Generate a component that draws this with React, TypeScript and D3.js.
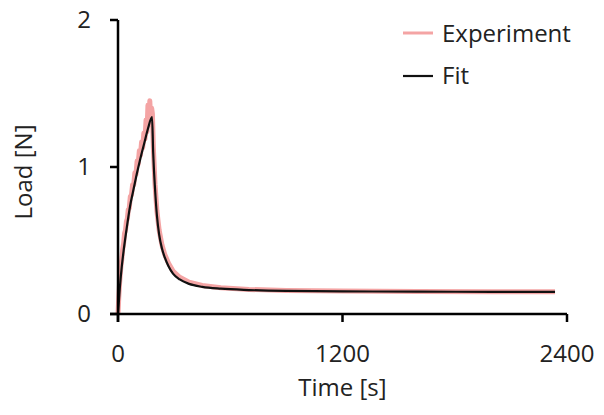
import React from "react";
import * as d3 from "d3";

const W = 604;
const H = 415;

const xTicks = [0, 1200, 2400];
const yTicks = [0, 1, 2];

// Fit curve (time s, load N)
const fitTime = [0, 10, 20, 30, 45, 64, 80, 100, 120, 140, 160, 182, 188, 198, 208, 220, 235, 250, 270, 294, 330, 380, 450, 550, 700, 900, 1200, 1600, 2000, 2336];
const fitLoad = [0, 0.18, 0.32, 0.43, 0.57, 0.73, 0.83, 0.95, 1.06, 1.16, 1.26, 1.34, 1.1, 0.85, 0.67, 0.54, 0.445, 0.385, 0.325, 0.275, 0.235, 0.205, 0.185, 0.172, 0.163, 0.157, 0.154, 0.152, 0.151, 0.15];

// Experiment (noisy measurement)
const expTime = [0, 4, 8, 12, 16, 20, 25, 30, 35, 40, 45, 50, 55, 60, 66, 72, 78, 84, 90, 96, 102, 108, 114, 120, 126, 132, 138, 144, 150, 155, 160, 165, 170, 175, 180, 184, 189, 198, 208, 220, 235, 250, 270, 294, 330, 380, 450, 550, 700, 900, 1200, 1600, 2000, 2336];
const expLoad = [0, 0.11, 0.2, 0.27, 0.33, 0.37, 0.44, 0.48, 0.55, 0.57, 0.63, 0.65, 0.71, 0.72, 0.8, 0.81, 0.88, 0.88, 0.96, 0.95, 1.04, 1.02, 1.11, 1.08, 1.17, 1.13, 1.23, 1.19, 1.32, 1.24, 1.42, 1.29, 1.45, 1.31, 1.4, 1.36, 1.13, 0.88, 0.7, 0.57, 0.47, 0.405, 0.345, 0.292, 0.25, 0.217, 0.194, 0.179, 0.167, 0.16, 0.156, 0.153, 0.152, 0.151];

const FONT = "'Open Sans', sans-serif";

export default function App() {
  const x = d3.scaleLinear().domain([0, 2400]).range([118, 567]);
  const y = d3.scaleLinear().domain([0, 2]).range([314, 20]);

  const line = d3
    .line<[number, number]>()
    .x((d) => x(d[0]))
    .y((d) => y(d[1]))
    .curve(d3.curveMonotoneX);

  const fitPts: [number, number][] = fitTime.map((t, i) => [t, fitLoad[i]]);
  const expPts: [number, number][] = expTime.map((t, i) => [t, expLoad[i]]);
  const expLine = d3
    .line<[number, number]>()
    .x((d) => x(d[0]))
    .y((d) => y(d[1]))
    .curve(d3.curveLinear);

  return (
    <svg width={W} height={H} style={{ position: "absolute", left: 0, top: 0, background: "#fff" }}>
      <rect width={W} height={H} fill="#fff" />
      {/* data */}
      <path d={expLine(expPts) || ""} fill="none" stroke="#f4a4a4" strokeWidth={5} strokeLinejoin="round" />
      <path d={line(fitPts) || ""} fill="none" stroke="#111" strokeWidth={2.2} strokeLinejoin="round" />

      {/* axes */}
      <line x1={110} x2={x(2400)} y1={y(0)} y2={y(0)} stroke="#000" strokeWidth={2.5} />
      <line x1={x(0)} x2={x(0)} y1={y(2)} y2={y(0) + 8} stroke="#000" strokeWidth={2.5} />
      {yTicks.map((t) => (
        <g key={"y" + t}>
          <line x1={110} x2={x(0)} y1={y(t)} y2={y(t)} stroke="#000" strokeWidth={2.5} />
          <text x={91} y={y(t) + 8} textAnchor="end" fontFamily={FONT} fontSize={24} fill="#222">
            {t}
          </text>
        </g>
      ))}
      {xTicks.map((t) => (
        <g key={"x" + t}>
          <line x1={x(t)} x2={x(t)} y1={y(0)} y2={y(0) + 8} stroke="#000" strokeWidth={2.5} />
          <text x={x(t)} y={362} textAnchor="middle" fontFamily={FONT} fontSize={24} fill="#222">
            {t}
          </text>
        </g>
      ))}
      <text x={x(1200)} y={396} textAnchor="middle" fontFamily={FONT} fontSize={24} fill="#222">
        Time [s]
      </text>
      <text transform="translate(32,172) rotate(-90)" textAnchor="middle" fontFamily={FONT} fontSize={24} fill="#222">
        Load [N]
      </text>

      {/* legend */}
      <line x1={403} x2={433} y1={33} y2={33} stroke="#f4a4a4" strokeWidth={3} />
      <text x={442} y={42} fontFamily={FONT} fontSize={24} fill="#222">Experiment</text>
      <line x1={403} x2={433} y1={76} y2={76} stroke="#111" strokeWidth={2.2} />
      <text x={442} y={84} fontFamily={FONT} fontSize={24} fill="#222">Fit</text>
    </svg>
  );
}
